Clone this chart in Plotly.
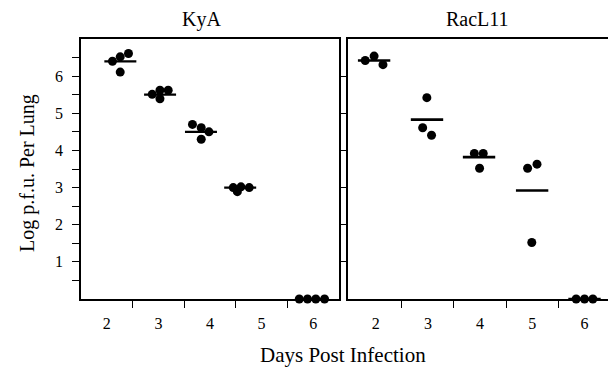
import plotly.graph_objects as go

# ---------------- data ----------------
days = [2, 3, 4, 5, 6]
day_labels = ["2", "3", "4", "5", "6"]

# KyA : individual lungs (x = plotted position along day axis, y = log pfu)
kya_x = [2.11, 2.26, 2.42, 2.26,
         2.88, 3.03, 3.19, 3.03,
         3.66, 3.83, 3.98, 3.83,
         4.45, 4.53, 4.60, 4.76,
         5.73, 5.89, 6.05, 6.22]
kya_y = [6.40, 6.52, 6.61, 6.11,
         5.51, 5.62, 5.62, 5.39,
         4.70, 4.61, 4.50, 4.30,
         3.00, 2.89, 3.02, 3.00,
         0.0, 0.0, 0.0, 0.0]
kya_group = [2]*4 + [3]*4 + [4]*4 + [5]*4 + [6]*4
kya_mean = [6.40, 5.50, 4.50, 3.00, 0.0]

# RacL11
rac_x = [1.80, 1.97, 2.14,
         2.98, 2.90, 3.07,
         3.89, 4.06, 3.99,
         4.91, 5.09, 4.99,
         5.84, 6.00, 6.16]
rac_y = [6.42, 6.54, 6.31,
         5.42, 4.61, 4.41,
         3.92, 3.92, 3.52,
         3.52, 3.63, 1.52,
         0.0, 0.0, 0.0]
rac_group = [2]*3 + [3]*3 + [4]*3 + [5]*3 + [6]*3
rac_mean = [6.42, 4.83, 3.82, 2.92, 0.0]

y_major = [1, 2, 3, 4, 5, 6]
y_minor = [0.5, 1.5, 2.5, 3.5, 4.5, 5.5, 6.5]
x_bounds = [2.5, 3.5, 4.5, 5.5]

# ---------------- style ----------------
FONT = "Liberation Serif"
HALF = 0.31  # half-width of mean bar in day units

fig = go.Figure()


def add_panel(xs, ys, groups, means, xref, yref, lw):
    fig.add_trace(go.Scatter(
        x=xs, y=ys, mode="markers", xaxis=xref, yaxis=yref,
        marker=dict(color="black", size=9, line=dict(width=0)),
        cliponaxis=False, showlegend=False, hoverinfo="skip"))
    for d, m in zip(days, means):
        gx = [x for x, g in zip(xs, groups) if g == d]
        c = sum(gx) / len(gx)
        fig.add_trace(go.Scatter(
            x=[c - HALF, c + HALF], y=[m, m], mode="lines",
            xaxis=xref, yaxis=yref,
            line=dict(color="black", width=lw),
            cliponaxis=False, showlegend=False, hoverinfo="skip"))


add_panel(kya_x, kya_y, kya_group, kya_mean, "x", "y", 2.2)
add_panel(rac_x, rac_y, rac_group, rac_mean, "x2", "y2", 2.6)

tickfont = dict(family=FONT, size=16, color="black")
axis_common = dict(showgrid=False, zeroline=False, showline=True,
                   linecolor="black", linewidth=1.5, tickfont=tickfont)

L0, L1 = 0.0, 258 / 527
R0, R1 = 267 / 527, 1.0

fig.update_layout(
    width=608, height=371,
    margin=dict(l=81, r=0, t=39, b=72),
    paper_bgcolor="white", plot_bgcolor="white",
    xaxis=dict(domain=[L0, L1], range=[1.5, 6.5], anchor="y", mirror=True,
               tickmode="array", tickvals=days, ticktext=day_labels,
               ticks="", ticklabelstandoff=9,
               minor=dict(tickmode="array", tickvals=x_bounds, ticks="outside",
                          ticklen=7, tickcolor="black", tickwidth=1.2),
               **axis_common),
    yaxis=dict(domain=[0, 1], range=[0, 7], anchor="x", mirror=True,
               tickmode="array", tickvals=y_major,
               ticktext=[str(v) for v in y_major],
               ticks="outside", ticklen=7, tickcolor="black", tickwidth=1.2,
               ticklabelstandoff=6,
               minor=dict(tickmode="array", tickvals=y_minor, ticks="outside",
                          ticklen=7, tickcolor="black", tickwidth=1.2),
               **axis_common),
    xaxis2=dict(domain=[R0, R1], range=[1.47, 6.45], anchor="y2", mirror=True,
                tickmode="array", tickvals=days, ticktext=day_labels,
                ticks="", ticklabelstandoff=9,
                minor=dict(tickmode="array", tickvals=x_bounds, ticks="outside",
                           ticklen=7, tickcolor="black", tickwidth=1.2),
                **axis_common),
    yaxis2=dict(domain=[0, 1], range=[0, 7], anchor="x2", mirror=False,
                tickmode="array", tickvals=y_major, showticklabels=False,
                ticks="outside", ticklen=5, tickcolor="black", tickwidth=1.2,
                **axis_common),
    annotations=[
        dict(text="KyA", xref="paper", yref="paper", x=(201.7 - 81) / 527,
             y=(299 - 19) / 260, xanchor="center", yanchor="middle",
             showarrow=False, font=dict(family=FONT, size=20, color="black")),
        dict(text="RacL11", xref="paper", yref="paper", x=(477.5 - 81) / 527,
             y=(299 - 19) / 260, xanchor="center", yanchor="middle",
             showarrow=False, font=dict(family=FONT, size=20, color="black")),
        dict(text="Days Post Infection", xref="paper", yref="paper",
             x=(343 - 81) / 527, y=(299 - 355) / 260,
             xanchor="center", yanchor="middle", showarrow=False,
             font=dict(family=FONT, size=21, color="black")),
        dict(text="Log p.f.u. Per Lung", xref="paper", yref="paper",
             x=(27 - 81) / 527, y=(299 - 173) / 260, textangle=-90,
             xanchor="center", yanchor="middle", showarrow=False,
             font=dict(family=FONT, size=20, color="black")),
    ],
)

fig.write_html("out.html")
